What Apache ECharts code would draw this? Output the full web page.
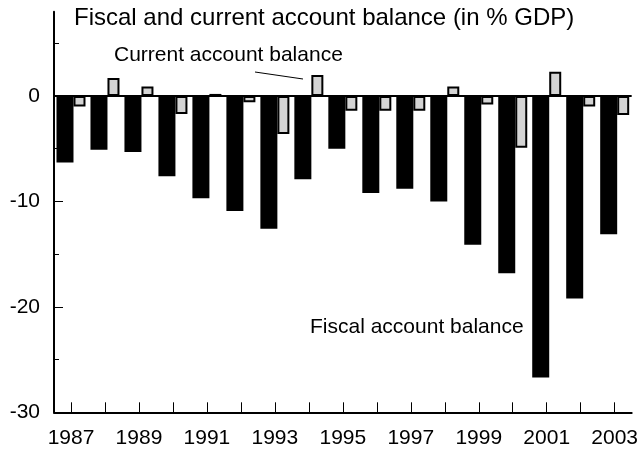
<!DOCTYPE html>
<html>
<head>
<meta charset="utf-8">
<script src="https://cdn.jsdelivr.net/npm/echarts@6/dist/echarts.min.js"></script>
<style>
html,body{margin:0;padding:0;background:#fff;}
#chart{width:641px;height:451px;}
</style>
</head>
<body>
<div id="chart"></div>
<script>
var years = ['1987','1988','1989','1990','1991','1992','1993','1994','1995','1996','1997','1998','1999','2000','2001','2002','2003'];
var fiscalBalance = [-6.3,-5.1,-5.3,-7.6,-9.7,-10.9,-12.6,-7.9,-5.0,-9.2,-8.8,-10.0,-14.1,-16.8,-26.7,-19.2,-13.1];
var currentBalance = [-1.0,1.7,0.9,-1.7,0.2,-0.6,-3.6,2.0,-1.4,-1.4,-1.4,0.9,-0.8,-4.9,2.3,-1.0,-1.8];
var majorTicks = [-30,-20,-10,0];
var minorTicks = [-25,-15,-5,5];
var titleText = 'Fiscal and current account balance (in % GDP)';
var currentLabel = 'Current account balance';
var fiscalLabel = 'Fiscal account balance';

var FONT = 'Liberation Sans, Arial, sans-serif';
var chart = echarts.init(document.getElementById('chart'));
chart.setOption({
  animation: false,
  backgroundColor: '#fff',
  grid: {left: 54, right: 8, top: 11.7, bottom: 38.7, containLabel: false},
  xAxis: {
    type: 'category',
    data: years,
    boundaryGap: true,
    axisLine: {onZero: false, lineStyle: {color: '#000', width: 2}},
    axisTick: {show: true, inside: true, length: 10, alignWithLabel: true, interval: 0, lineStyle: {color: '#000', width: 1}},
    axisLabel: {interval: 1, color: '#000', fontSize: 21, fontFamily: FONT, margin: 15},
    splitLine: {show: false}
  },
  yAxis: [{
    type: 'value',
    min: -30, max: 8, interval: 5,
    axisLine: {show: true, lineStyle: {color: '#000', width: 2}},
    axisTick: {show: true, inside: true, length: 9, customValues: majorTicks, lineStyle: {color: '#000', width: 1}},
    axisLabel: {color: '#000', fontSize: 21, fontFamily: FONT, margin: 14, customValues: majorTicks},
    splitLine: {show: false}
  }, {
    type: 'value',
    position: 'left',
    min: -30, max: 8, interval: 5,
    axisLine: {show: false},
    axisTick: {show: true, inside: true, length: 5, customValues: minorTicks, lineStyle: {color: '#000', width: 1}},
    axisLabel: {show: false},
    splitLine: {show: false}
  }],
  series: [{
    name: fiscalLabel,
    type: 'bar',
    data: fiscalBalance,
    barWidth: 17,
    itemStyle: {color: '#000'},
    markLine: {
      silent: true,
      symbol: ['none','none'],
      label: {show: false},
      lineStyle: {color: '#000', width: 2, type: 'solid'},
      data: [{yAxis: 0}]
    }
  }, {
    name: currentLabel,
    type: 'bar',
    data: currentBalance,
    barWidth: 12,
    barGap: '0%',
    itemStyle: {color: '#d4d4d4', borderColor: '#000', borderWidth: 2}
  }],
  graphic: [
    {type: 'text', left: 74, top: 6, style: {text: titleText, fill: '#000', font: '24px ' + FONT}},
    {type: 'text', left: 114, top: 45, style: {text: currentLabel, fill: '#000', font: '21px ' + FONT}},
    {type: 'text', left: 310, top: 317, style: {text: fiscalLabel, fill: '#000', font: '21px ' + FONT}},
    {type: 'line', shape: {x1: 255, y1: 72, x2: 303, y2: 79}, style: {stroke: '#000', lineWidth: 1}}
  ]
});
</script>
</body>
</html>
